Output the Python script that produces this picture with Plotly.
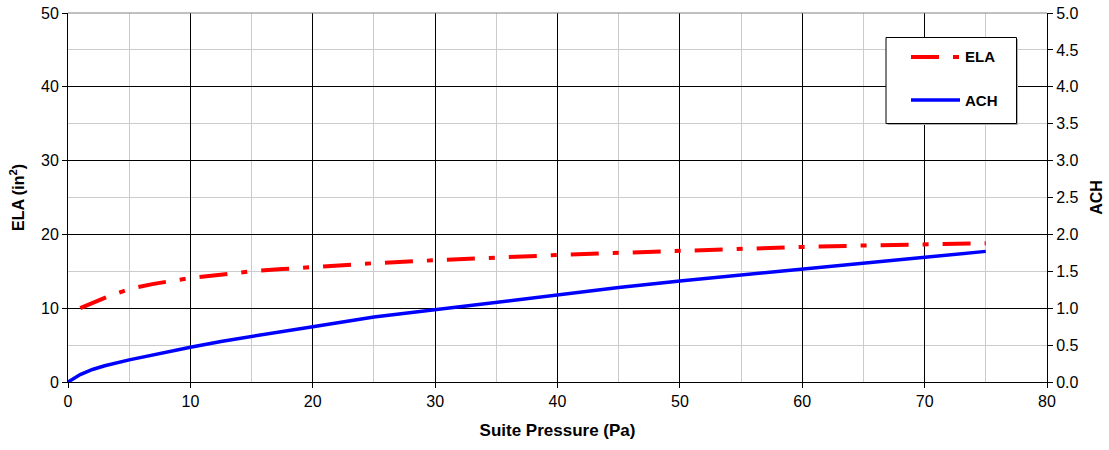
import plotly.graph_objects as go

pressure_ela = [1, 3, 5, 7, 10, 12.5, 15, 17.5, 20, 25, 30, 35, 40, 45, 50, 55, 60, 65, 70, 75]
ela_values = [10.0, 11.4, 12.6, 13.3, 14.1, 14.6, 15.0, 15.3, 15.6, 16.1, 16.5, 16.9, 17.2, 17.5, 17.8, 18.0, 18.3, 18.5, 18.7, 18.8]

pressure_ach = [0, 0.5, 1, 2, 3, 5, 7.5, 10, 12.5, 15, 17.5, 20, 25, 30, 35, 40, 45, 50, 55, 60, 65, 70, 75]
ach_values = [0.0, 0.05, 0.1, 0.17, 0.22, 0.3, 0.39, 0.47, 0.55, 0.62, 0.69, 0.75, 0.88, 0.98, 1.09, 1.19, 1.28, 1.37, 1.45, 1.54, 1.62, 1.69, 1.77]

FONT = "Liberation Sans, Arial, sans-serif"
ELA_DASH = "28px,14px,6px,14px"
ELA_STYLE = dict(color="#ff0000", width=4, dash=ELA_DASH)
ACH_STYLE = dict(color="#0000ff", width=3.5)

W, H = 1109, 450
ML, MR, MT, MB = 68, 62, 13, 68
PW, PH = W - ML - MR, H - MT - MB

def px(x):
    return (x - ML) / PW

def py(y):
    return 1 - (y - MT) / PH

fig = go.Figure()
fig.add_trace(go.Scatter(
    x=pressure_ela, y=ela_values, name="ELA", mode="lines",
    line=ELA_STYLE, yaxis="y"))
fig.add_trace(go.Scatter(
    x=pressure_ach, y=ach_values, name="ACH", mode="lines",
    line=ACH_STYLE, yaxis="y2"))

shapes = [
    dict(type="line", xref="paper", yref="paper", x0=0, x1=1, y0=1, y1=1,
         line=dict(color="#808080", width=1), layer="above"),
    # legend shadow + box
    dict(type="rect", xref="paper", yref="paper", x0=px(887.5), x1=px(1018), y0=py(39), y1=py(125),
         line=dict(width=0), fillcolor="#b0b0b0", layer="above"),
    dict(type="rect", xref="paper", yref="paper", x0=px(886), x1=px(1016.5), y0=py(37.5), y1=py(123.5),
         line=dict(color="black", width=1), fillcolor="white", layer="above"),
    dict(type="line", xref="paper", yref="paper", x0=px(911), x1=px(960), y0=py(57), y1=py(57),
         line=ELA_STYLE, layer="above"),
    dict(type="line", xref="paper", yref="paper", x0=px(911), x1=px(960), y0=py(100), y1=py(100),
         line=ACH_STYLE, layer="above"),
]
annotations = [
    dict(text="ELA", xref="paper", yref="paper", x=px(963), y=py(57), xanchor="left", yanchor="middle",
         showarrow=False, font=dict(family=FONT, size=15, color="black", weight="bold")),
    dict(text="ACH", xref="paper", yref="paper", x=px(963), y=py(100), xanchor="left", yanchor="middle",
         showarrow=False, font=dict(family=FONT, size=15, color="black", weight="bold")),
]

fig.update_layout(
    width=W, height=H,
    margin=dict(l=ML, r=MR, t=MT, b=MB, autoexpand=False),
    paper_bgcolor="white", plot_bgcolor="white",
    font=dict(family=FONT, size=16, color="black"),
    showlegend=False,
    xaxis=dict(
        range=[0, 80], dtick=10, tick0=0,
        showgrid=True, gridcolor="black", gridwidth=1,
        minor=dict(dtick=5, showgrid=True, gridcolor="#cccccc", gridwidth=1),
        showline=True, linecolor="black", linewidth=1,
        ticks="outside", ticklen=5, tickcolor="black",
        zeroline=False, automargin=False,
        title=dict(text="Suite Pressure (Pa)", font=dict(family=FONT, size=17, weight="bold"), standoff=14),
        tickfont=dict(family=FONT, size=16),
    ),
    yaxis=dict(
        range=[0, 50], dtick=10,
        showgrid=True, gridcolor="black", gridwidth=1,
        minor=dict(dtick=5, showgrid=True, gridcolor="#cccccc", gridwidth=1),
        showline=True, linecolor="black", linewidth=1,
        ticks="outside", ticklen=5, tickcolor="black",
        zeroline=False, automargin=False,
        title=dict(text="ELA (in<sup>2</sup>)", font=dict(family=FONT, size=16, weight="bold"), standoff=12),
        tickfont=dict(family=FONT, size=16),
    ),
    yaxis2=dict(
        range=[0, 5], dtick=0.5, tickformat=".1f",
        overlaying="y", side="right",
        showgrid=False, zeroline=False, automargin=False,
        showline=True, linecolor="black", linewidth=1,
        ticks="outside", ticklen=5, tickcolor="black",
        title=dict(text="ACH", font=dict(family=FONT, size=16, weight="bold"), standoff=13),
        tickfont=dict(family=FONT, size=16),
    ),
    shapes=shapes,
    annotations=annotations,
)

fig.write_html("out.html")
